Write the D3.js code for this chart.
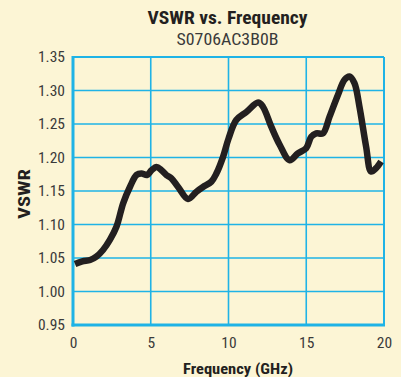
<!DOCTYPE html>
<html>
<head>
<meta charset="utf-8">
<script src="https://cdn.jsdelivr.net/npm/d3@7"></script>
<style>
  html, body { margin: 0; padding: 0; background: #fcf5d5; }
  svg { display: block; }
  .cond { font-family: "Liberation Sans Narrow", "Roboto Condensed", "Arial Narrow", sans-serif; }
</style>
</head>
<body>
<svg id="chart" width="401" height="377"></svg>
<script>
// Measured VSWR of S0706AC3B0B across 0–20 GHz
const freqGHz = [0.13, 0.6, 1.1, 1.5, 1.93, 2.37, 2.8, 3.23, 3.66, 4.09, 4.4, 4.77, 5.05, 5.37, 5.69, 6.0, 6.33, 6.76, 7.4, 7.94, 8.36, 8.9, 9.22, 9.65, 10.0, 10.5, 11.15, 11.9, 12.21, 12.75, 13.29, 13.93, 14.46, 15.0, 15.32, 15.64, 16.07, 16.5, 17.03, 17.46, 17.78, 18.1, 18.42, 18.85, 19.17, 19.49, 19.81];
const vswr    = [1.041, 1.045, 1.047, 1.052, 1.062, 1.077, 1.097, 1.132, 1.156, 1.174, 1.176, 1.174, 1.181, 1.186, 1.181, 1.174, 1.169, 1.156, 1.138, 1.149, 1.156, 1.164, 1.176, 1.201, 1.228, 1.256, 1.268, 1.282, 1.276, 1.246, 1.219, 1.196, 1.206, 1.214, 1.231, 1.236, 1.236, 1.261, 1.293, 1.316, 1.321, 1.311, 1.276, 1.216, 1.179, 1.184, 1.194];
const xTicks = [0, 5, 10, 15, 20];
const yTicks = [0.95, 1.00, 1.05, 1.10, 1.15, 1.20, 1.25, 1.30, 1.35];

const title = "VSWR vs. Frequency";
const subtitle = "S0706AC3B0B";
const xTitle = "Frequency (GHz)";
const yTitle = "VSWR";

const svg = d3.select("#chart");
const plot = { left: 73, right: 384, top: 57, bottom: 325 };
const gridColor = "#1fb3e6";

const x = d3.scaleLinear().domain([0, 20]).range([plot.left, plot.right]);
const y = d3.scaleLinear().domain([0.95, 1.35]).range([plot.bottom, plot.top]);

// Grid lines
const grid = svg.append("g");
grid.selectAll("line.v").data(xTicks.slice(1, -1)).join("line")
  .attr("x1", d => x(d)).attr("x2", d => x(d))
  .attr("y1", plot.top).attr("y2", plot.bottom)
  .attr("stroke", gridColor).attr("stroke-width", 1.6);
grid.selectAll("line.h").data(yTicks.slice(1, -1)).join("line")
  .attr("y1", d => y(d)).attr("y2", d => y(d))
  .attr("x1", plot.left).attr("x2", plot.right)
  .attr("stroke", gridColor).attr("stroke-width", 1.6);

// Frame: heavier on the left and bottom
svg.append("line").attr("x1", plot.left).attr("x2", plot.right).attr("y1", plot.top).attr("y2", plot.top)
  .attr("stroke", gridColor).attr("stroke-width", 2);
svg.append("line").attr("x1", plot.right).attr("x2", plot.right).attr("y1", plot.top).attr("y2", plot.bottom)
  .attr("stroke", gridColor).attr("stroke-width", 2);
svg.append("line").attr("x1", plot.left).attr("x2", plot.left).attr("y1", plot.top - 1).attr("y2", plot.bottom + 1.5)
  .attr("stroke", gridColor).attr("stroke-width", 3);
svg.append("line").attr("x1", plot.left - 1.5).attr("x2", plot.right + 1).attr("y1", plot.bottom).attr("y2", plot.bottom)
  .attr("stroke", gridColor).attr("stroke-width", 3);

// Axes (labels only)
const xAxis = d3.axisBottom(x).tickValues(xTicks).tickSize(0).tickPadding(12).tickFormat(d3.format("d"));
const yAxis = d3.axisLeft(y).tickValues(yTicks).tickSize(0).tickPadding(8).tickFormat(d3.format(".2f"));

const gx = svg.append("g").attr("transform", `translate(0,${plot.bottom})`).call(xAxis);
const gy = svg.append("g").attr("transform", `translate(${plot.left},0)`).call(yAxis);
[gx, gy].forEach(g => {
  g.select(".domain").remove();
  g.selectAll("text").attr("class", "cond").attr("font-size", 15.5).attr("fill", "#3a3a3a");
});

// Data curve
const line = d3.line().x((d, i) => x(freqGHz[i])).y(d => y(d)).curve(d3.curveCatmullRom.alpha(0.5));
svg.append("path").datum(vswr)
  .attr("d", line)
  .attr("fill", "none")
  .attr("stroke", "#231f20")
  .attr("stroke-width", 6.5)
  .attr("stroke-linejoin", "round");

// Titles
const cx = (plot.left + plot.right) / 2 - 1;
svg.append("text").attr("class", "cond").attr("x", cx).attr("y", 23.5)
  .attr("text-anchor", "middle").attr("font-size", 17.5).attr("font-weight", "bold").attr("fill", "#231f20")
  .attr("textLength", 160).attr("lengthAdjust", "spacingAndGlyphs")
  .text(title);
svg.append("text").attr("class", "cond").attr("x", cx).attr("y", 45)
  .attr("text-anchor", "middle").attr("font-size", 16.5).attr("fill", "#3a3a3a")
  .attr("textLength", 102).attr("lengthAdjust", "spacingAndGlyphs")
  .text(subtitle);
svg.append("text").attr("class", "cond").attr("x", 238).attr("y", 374)
  .attr("text-anchor", "middle").attr("font-size", 15.5).attr("font-weight", "bold").attr("fill", "#231f20")
  .attr("textLength", 110).attr("lengthAdjust", "spacingAndGlyphs")
  .text(xTitle);
svg.append("text").attr("class", "cond")
  .attr("transform", `translate(30,194) rotate(-90)`)
  .attr("text-anchor", "middle").attr("font-size", 16).attr("font-weight", "bold").attr("fill", "#231f20")
  .attr("textLength", 50).attr("lengthAdjust", "spacingAndGlyphs")
  .text(yTitle);
</script>
</body>
</html>
